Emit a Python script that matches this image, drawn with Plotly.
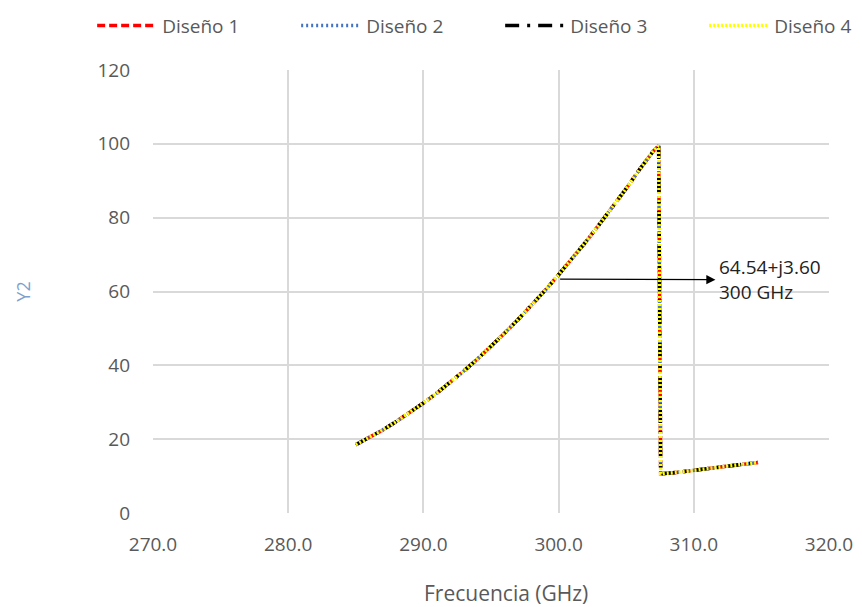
import plotly.graph_objects as go

# Frequency sweep (GHz) and Y2 response, shared by the four designs
freq_ghz = [285.0, 286.0, 287.0, 288.0, 289.0, 290.0, 291.0, 292.0, 293.0, 294.0,
            295.0, 296.0, 297.0, 298.0, 299.0, 300.0, 301.0, 302.0, 303.0, 304.0,
            305.0, 306.0, 307.0, 307.4, 307.55, 309.0, 311.0, 313.0, 314.75]
y2 = [18.5, 20.4, 22.5, 24.8, 27.2, 29.8, 32.5, 35.4, 38.5, 41.7,
      45.1, 48.7, 52.4, 56.3, 60.3, 64.54, 68.9, 73.4, 78.1, 82.9,
      87.9, 93.1, 98.0, 99.5, 10.6, 11.1, 12.0, 12.9, 13.7]

series_names = ["Diseño 1", "Diseño 2", "Diseño 3", "Diseño 4"]
series_values = [y2, y2, y2, y2]
series_colors = ["#ff0000", "#4472c4", "#000000", "#ffff00"]
series_dash = ["8px,4px", "2px,3px", "14px,8px,3px,8px", "2px,2px"]

x_ticks = [270, 280, 290, 300, 310, 320]
y_ticks = [0, 20, 40, 60, 80, 100, 120]

# Marked point and its label
mark_freq = 300.0
mark_y2 = 64.54
mark_text = "64.54+j3.60<br>300 GHz"

FONT = "'Open Sans', 'Liberation Sans', sans-serif"
GREY = "#595959"

fig = go.Figure()
for name, vals, col, dash in zip(series_names, series_values, series_colors, series_dash):
    fig.add_trace(go.Scatter(
        x=freq_ghz, y=vals, mode="lines", name=name,
        line=dict(color=col, width=3.5, dash=dash),
    ))

# Arrow from the curve point at 300 GHz out to the label
fig.add_annotation(
    x=311.6, y=63.2, ax=mark_freq, ay=mark_y2 - 1.2,
    xref="x", yref="y", axref="x", ayref="y",
    text="", showarrow=True, arrowhead=2, arrowsize=1.4,
    arrowwidth=1.3, arrowcolor="#000000",
)
fig.add_annotation(
    x=311.7, y=63.2, xref="x", yref="y", text=mark_text,
    showarrow=False, xanchor="left", yanchor="middle", align="left",
    font=dict(family=FONT, size=19, color="#222222"),
)

# Axis title of the frequency axis
fig.add_annotation(
    x=0.522, y=-0.180, xref="paper", yref="paper",
    text="Frecuencia (GHz)", showarrow=False,
    xanchor="center", yanchor="middle",
    font=dict(family=FONT, size=21, color=GREY),
)

fig.update_layout(
    width=862, height=607,
    margin=dict(l=153, r=33, t=70, b=94, autoexpand=False),
    paper_bgcolor="#ffffff", plot_bgcolor="#ffffff",
    font=dict(family=FONT, size=19, color=GREY),
    showlegend=True,
    legend=dict(
        orientation="h", x=-0.09, xanchor="left", y=1.10, yanchor="middle",
        font=dict(family=FONT, size=19, color=GREY),
        itemwidth=60, entrywidth=129, entrywidthmode="pixels",
        bgcolor="rgba(0,0,0,0)",
    ),
    xaxis=dict(
        range=[270, 320], tickvals=x_ticks,
        ticktext=[f"{v:.1f}" for v in x_ticks],
        showgrid=True, gridcolor="#d9d9d9", gridwidth=1.5,
        zeroline=False, showline=False, ticks="",
        ticklabelstandoff=18,
        tickfont=dict(family=FONT, size=19, color=GREY),
    ),
    yaxis=dict(
        range=[0, 120], tickvals=y_ticks,
        showgrid=True, gridcolor="#d9d9d9", gridwidth=1.5,
        zeroline=False, showline=False, ticks="",
        ticklabelstandoff=22,
        tickfont=dict(family=FONT, size=19, color=GREY),
        title=dict(text="Y2", standoff=62,
                   font=dict(family=FONT, size=18, color="#7f9fcf")),
    ),
)

fig.write_html("out.html")
